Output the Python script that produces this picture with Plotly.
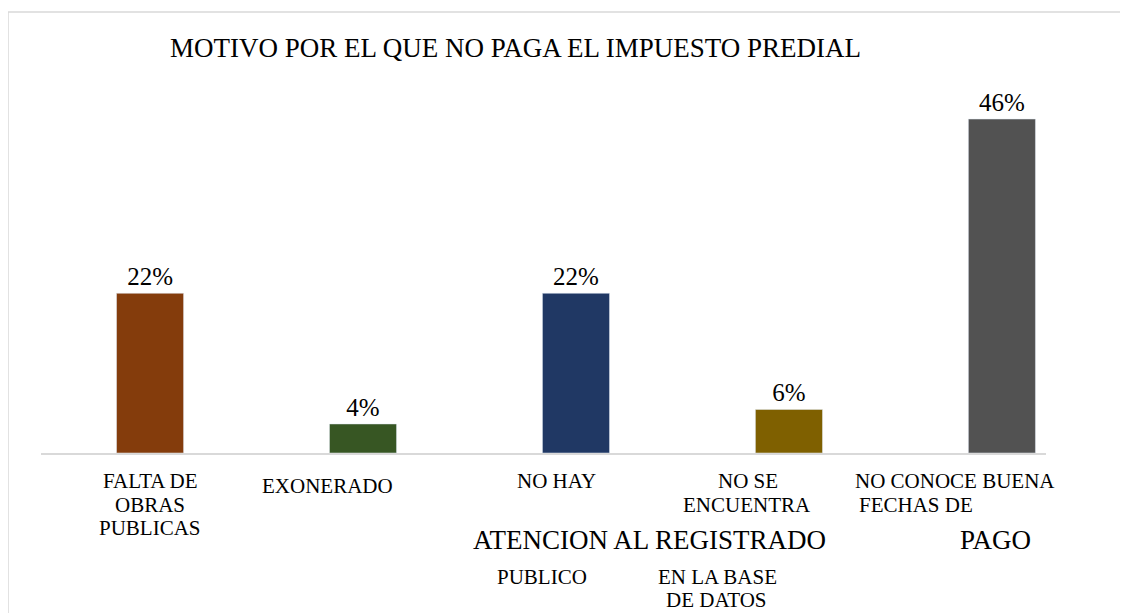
import plotly.graph_objects as go

# data
categories = ["FALTA DE OBRAS PUBLICAS", "EXONERADO", "NO HAY ATENCION AL PUBLICO",
              "NO SE ENCUENTRA REGISTRADO EN LA BASE DE DATOS", "NO CONOCE BUENA FECHAS DE PAGO"]
values = [22, 4, 22, 6, 46]
bar_colors = ["#843C0C", "#375623", "#203864", "#7F6000", "#525252"]

# broken-up tick label pieces, as they appear in the original
tick_parts = ["FALTA DE", "OBRAS", "PUBLICAS", "EXONERADO", "NO HAY", "ATENCION AL REGISTRADO",
              "PUBLICO", "NO SE", "ENCUENTRA", "EN LA BASE", "DE DATOS", "NO CONOCE BUENA",
              "FECHAS DE", "PAGO"]

OFF = 8  # page body margin
W, H = 1128 - OFF, 613 - OFF
L, R, T, B = 41 - OFF, 82, 90 - OFF, 160
PW, PH = W - L - R, H - T - B
BASE = 453 - OFF  # baseline in figure pixels

# pixel layout (screen coords) for the tick pieces: (center x, center y, font size, anchor)
part_pos = [(150, 481, 21, "center"), (150, 505, 21, "center"), (150, 528, 21, "center"),
            (327, 486, 21, "center"), (556, 481, 21, "center"), (649, 540, 27, "center"),
            (542, 577, 21, "center"), (748, 481, 21, "center"), (747, 505, 21, "center"),
            (717, 577, 21, "center"), (716, 600, 21, "center"), (955, 481, 21, "center"),
            (857, 505, 21, "left"), (995, 540, 27, "center")]

FONT = "Liberation Serif"


def px_x(px):
    return (px - OFF - L) / PW


def px_y(py):
    return (BASE - (py - OFF)) / PH


fig = go.Figure()
fig.add_trace(go.Bar(x=list(range(len(categories))), y=values,
                     marker_color=bar_colors, width=0.315,
                     text=[f"{v}%" for v in values], textposition="outside",
                     textfont=dict(size=25, color="#000000", family=FONT),
                     outsidetextfont=dict(size=25, color="#000000", family=FONT),
                     cliponaxis=False, hoverinfo="skip", showlegend=False))

for txt, (px, py, sz, anc) in zip(tick_parts, part_pos):
    fig.add_annotation(text=txt, xref="paper", yref="paper",
                       x=px_x(px), y=px_y(py),
                       xanchor=anc, yanchor="middle", showarrow=False,
                       font=dict(size=sz, color="#000000", family=FONT))

# outer chart border
fig.add_shape(type="rect", xref="paper", yref="paper",
              x0=px_x(8), x1=px_x(1140), y0=px_y(640), y1=px_y(12),
              line=dict(color="#d9d9d9", width=1.5), layer="below")

fig.update_layout(
    width=W, height=H,
    margin=dict(l=L, r=R, t=T, b=B),
    paper_bgcolor="white", plot_bgcolor="white",
    title=dict(text="MOTIVO POR EL QUE NO PAGA EL IMPUESTO PREDIAL",
               x=px_x(170), xref="paper", xanchor="left",
               y=1 - (48 - OFF) / H, yref="container", yanchor="middle",
               font=dict(size=27, color="#000000", family=FONT)),
    xaxis=dict(range=[-0.512, 4.207], showticklabels=False, showgrid=False, zeroline=False,
               showline=True, linecolor="#d9d9d9", linewidth=2, ticks=""),
    yaxis=dict(range=[0, 50], visible=False),
)

fig.write_html("out.html")
